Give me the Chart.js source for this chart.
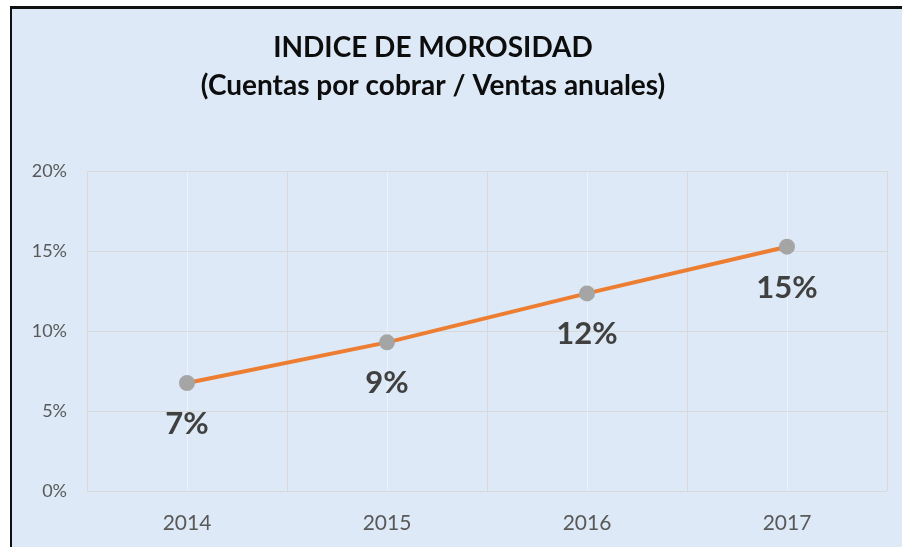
<!DOCTYPE html>
<html>
<head>
<meta charset="utf-8">
<script src="https://cdn.jsdelivr.net/npm/chart.js@4.4.1/dist/chart.umd.min.js"></script>
<style>
  html, body { margin: 0; padding: 0; background: #ffffff; }
  body { width: 902px; height: 547px; position: relative; overflow: hidden; }
  #frame { position: absolute; left: 10px; top: 6px; width: 900px; height: 560px;
           border-left: 2px solid #111; border-top: 3px solid #111; background: #DDE9F6; }
  #wrap { position: absolute; left: 0; top: 0; width: 902px; height: 547px; }
</style>
</head>
<body>
<div id="frame"></div>
<div id="wrap"><canvas id="c" width="902" height="547"></canvas></div>
<script>
const categories = ['2014', '2015', '2016', '2017'];
const morosidad = [6.75, 9.29, 12.35, 15.27];
const pointLabels = ['7%', '9%', '12%', '15%'];
const yTicks = [0, 5, 10, 15, 20];
const titleLines = ['INDICE DE MOROSIDAD', '(Cuentas por cobrar / Ventas anuales)'];

const FONT = 'Lato, "Open Sans", sans-serif';

const titlePlugin = {
  id: 'customTitle',
  afterDraw(chart) {
    const ctx = chart.ctx;
    ctx.save();
    ctx.font = 'bold 28px ' + FONT;
    ctx.fillStyle = '#0d0d0d';
    ctx.textAlign = 'center';
    ctx.textBaseline = 'alphabetic';
    ctx.fillText(titleLines[0], 433, 57);
    ctx.fillText(titleLines[1], 433, 95);
    ctx.restore();
  }
};

const labelPlugin = {
  id: 'pointLabels',
  afterDatasetsDraw(chart) {
    const meta = chart.getDatasetMeta(0);
    const ctx = chart.ctx;
    ctx.save();
    ctx.font = 'bold 31px ' + FONT;
    ctx.fillStyle = '#404040';
    ctx.textAlign = 'center';
    ctx.textBaseline = 'middle';
    meta.data.forEach((pt, i) => {
      ctx.fillText(pointLabels[i], pt.x, pt.y + 41);
    });
    ctx.restore();
  }
};

new Chart(document.getElementById('c'), {
  type: 'line',
  data: {
    labels: categories,
    datasets: [{
      data: morosidad,
      borderColor: '#ED7D31',
      borderWidth: 4,
      pointBackgroundColor: '#A5A5A5',
      pointBorderColor: '#A5A5A5',
      pointRadius: 6,
      pointHoverRadius: 6,
      tension: 0,
      xAxisID: 'x'
    }]
  },
  options: {
    responsive: false,
    animation: false,
    devicePixelRatio: 1,
    layout: { padding: { left: 0, right: 15, top: 171, bottom: 0 } },
    plugins: {
      legend: { display: false },
      tooltip: { enabled: false },
      title: { display: false }
    },
    scales: {
      x: {
        type: 'category',
        position: 'bottom',
        offset: true,
        grid: { offset: true, color: '#D9D9D9', lineWidth: 1, drawTicks: false },
        border: { display: false },
        ticks: { color: '#595959', font: { family: FONT, size: 21 }, padding: 20 },
        afterFit(s) { s.height = 56; }
      },
      x2: {
        type: 'category',
        position: 'bottom',
        labels: categories,
        offset: true,
        grid: { offset: false, color: '#EEF3FA', lineWidth: 1, drawTicks: false },
        border: { display: false },
        ticks: { display: false },
        afterFit(s) { s.height = 0; }
      },
      y: {
        min: 0,
        max: 20,
        afterBuildTicks(s) { s.ticks = yTicks.map(v => ({ value: v })); },
        grid: { color: '#D9D9D9', lineWidth: 1, drawTicks: false },
        border: { display: false },
        ticks: {
          color: '#595959',
          font: { family: FONT, size: 18 },
          padding: 20,
          callback: v => v + '%'
        },
        afterFit(s) { s.width = 87; }
      }
    }
  },
  plugins: [labelPlugin, titlePlugin]
});
</script>
</body>
</html>
